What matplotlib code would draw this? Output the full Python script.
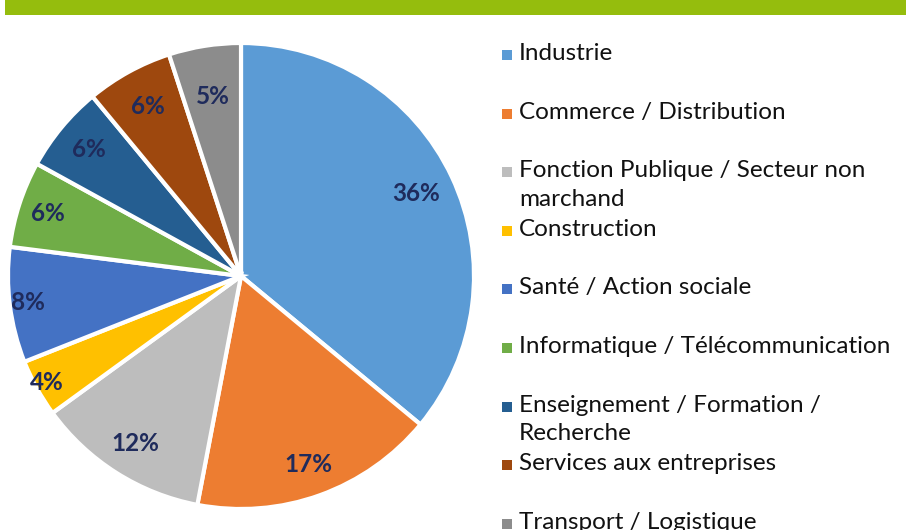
import matplotlib
matplotlib.use("Agg")
import matplotlib.pyplot as plt
from matplotlib.patches import Rectangle
import numpy as np

# données
categories = ["Industrie", "Commerce / Distribution",
              "Fonction Publique / Secteur non\nmarchand", "Construction",
              "Santé / Action sociale", "Informatique / Télécommunication",
              "Enseignement / Formation /\nRecherche", "Services aux entreprises",
              "Transport / Logistique"]
values = [36, 17, 12, 4, 8, 6, 6, 6, 5]
colors = ["#5B9BD5", "#ED7D31", "#BDBDBD", "#FFC000", "#4472C4",
          "#70AD47", "#255E91", "#9E480E", "#8C8C8C"]
# distance radiale des étiquettes (style)
label_r = [0.83, 0.86, 0.85, 0.95, 0.92, 0.87, 0.85, 0.83, 0.78]

W, H = 906, 530
plt.rcParams['font.family'] = ['Lato', 'DejaVu Sans']
fig = plt.figure(figsize=(W / 100, H / 100), dpi=100)
fig.patch.set_facecolor("white")

# bandeau vert en haut
fig.patches.append(Rectangle((5 / W, 1 - 15 / H), 1, 15 / H, transform=fig.transFigure,
                             facecolor="#95BD0D", edgecolor="none"))

cx, cy, R = 241, 276, 233
ax = fig.add_axes([(cx - R) / W, (H - cy - R) / H, 2 * R / W, 2 * R / H])
wedges, _ = ax.pie(values, colors=colors, startangle=90, counterclock=False,
                   wedgeprops=dict(edgecolor="white", linewidth=3))
for w, v, r in zip(wedges, values, label_r):
    ang = np.deg2rad((w.theta1 + w.theta2) / 2)
    ax.text(r * np.cos(ang), r * np.sin(ang), f"{v}%", ha="center", va="center",
            fontsize=17.5, fontweight="bold", color="#1F2B5C")
ax.set_xlim(-1, 1)
ax.set_ylim(-1, 1)
ax.set_aspect("equal")
ax.axis("off")

# légende manuelle
y0, step = 53, 58.6
for i, (lab, col) in enumerate(zip(categories, colors)):
    y = y0 + i * step
    fig.patches.append(Rectangle((502 / W, 1 - (y + 7) / H), 10 / W, 10 / H,
                                 transform=fig.transFigure, facecolor=col, edgecolor="none"))
    fig.text(519 / W, 1 - (y - 10) / H, lab, ha="left", va="top", fontsize=17.5,
             color="#111111", linespacing=1.45)

fig.savefig("out.png", dpi=100, facecolor="white")
